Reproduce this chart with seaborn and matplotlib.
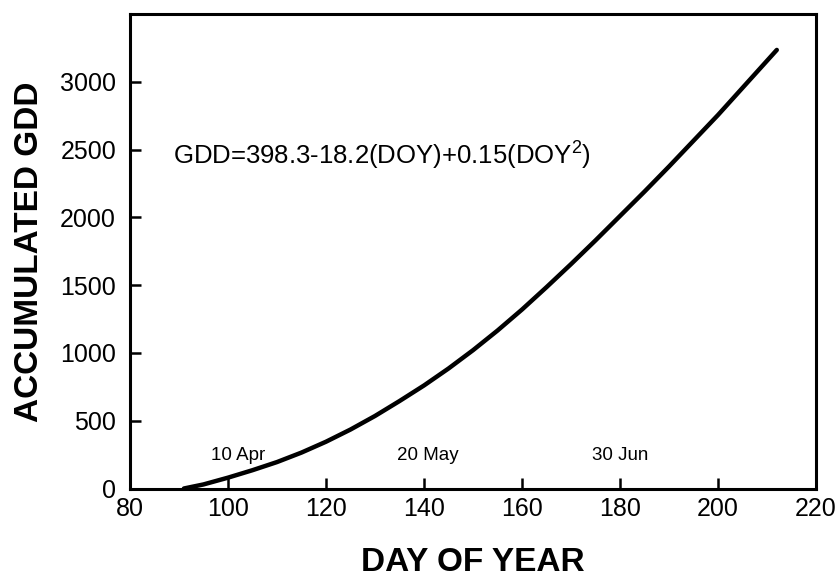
import matplotlib
matplotlib.use("Agg")
import matplotlib.pyplot as plt
import seaborn as sns
import pandas as pd

doy = [91, 95, 100, 105, 110, 115, 120, 125, 130, 135, 140, 145, 150, 155,
       160, 165, 170, 175, 180, 185, 190, 195, 200, 205, 212]
gdd = [0, 30, 80, 135, 195, 265, 345, 435, 535, 645, 760, 885, 1020, 1165,
       1320, 1485, 1655, 1830, 2010, 2190, 2375, 2565, 2755, 2955, 3235]

x_ticks = [80, 100, 120, 140, 160, 180, 200, 220]
y_ticks = [0, 500, 1000, 1500, 2000, 2500, 3000]
date_labels = ["10 Apr", "20 May", "30 Jun"]
date_pos = [102, 140.8, 180]
equation = r"GDD=398.3-18.2(DOY)+0.15(DOY$^2$)"

sns.set_theme(style="ticks")
plt.rcParams['font.family'] = ['Liberation Sans', 'DejaVu Sans']
plt.rcParams['mathtext.fontset'] = 'custom'
plt.rcParams['mathtext.rm'] = 'Liberation Sans'

df = pd.DataFrame({"DOY": doy, "GDD": gdd})

fig = plt.figure(figsize=(8.4, 5.79), dpi=100)
ax = fig.add_axes([130/840, 1 - 488.5/579, (816-130)/840, (488.5-14)/579])

sns.lineplot(data=df, x="DOY", y="GDD", ax=ax, color="black", linewidth=3.2,
             solid_capstyle="round")

ax.set_xlim(80, 220)
ax.set_ylim(0, 3500)
ax.set_xticks(x_ticks)
ax.set_yticks(y_ticks)
ax.tick_params(direction="in", length=8, width=1.8, labelsize=18, colors="black")
ax.tick_params(axis="y", pad=10)
ax.tick_params(axis="x", pad=6)
for s in ax.spines.values():
    s.set_visible(True)
    s.set_linewidth(2.2)
    s.set_color("black")

ax.set_xlabel("DAY OF YEAR", fontsize=24, fontweight="bold", labelpad=19, color="black")
ax.set_ylabel("ACCUMULATED GDD", fontsize=24, fontweight="bold", labelpad=11, color="black")

for lab, p in zip(date_labels, date_pos):
    ax.text(p, 210, lab, fontsize=13.5, ha="center", va="baseline", color="black")

ax.text(88.8, 2400, equation, fontsize=18.5, ha="left", va="baseline", color="black")

fig.savefig("out.png", dpi=100)
